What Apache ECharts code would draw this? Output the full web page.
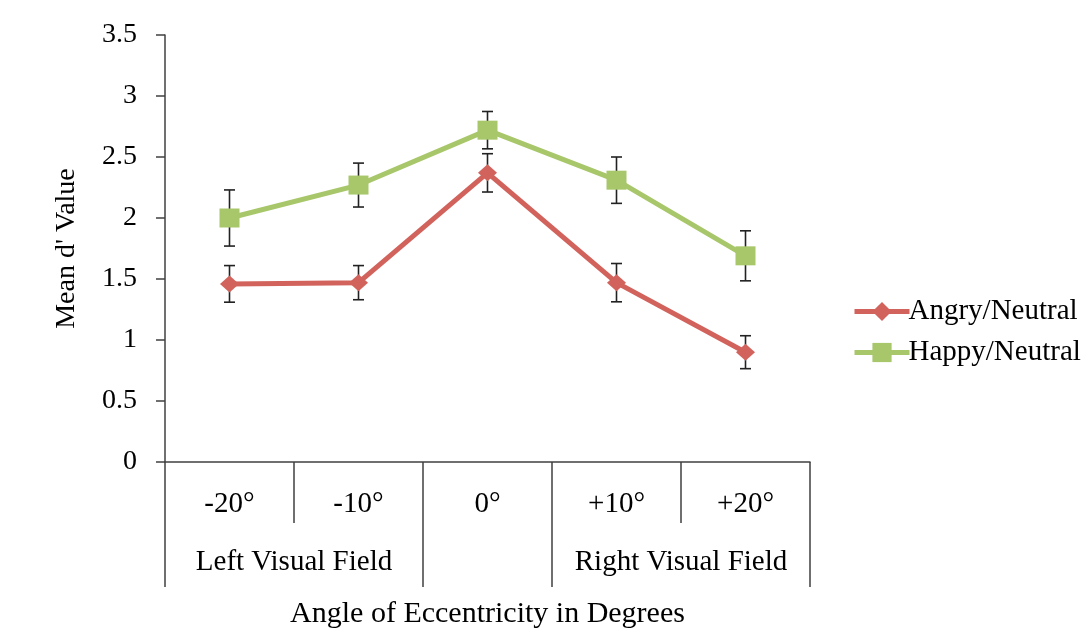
<!DOCTYPE html>
<html>
<head>
<meta charset="utf-8">
<script src="https://cdn.jsdelivr.net/npm/echarts@6/dist/echarts.min.js"></script>
<style>
html,body{margin:0;padding:0;background:#fff;}
#chart{width:1091px;height:629px;}
</style>
</head>
<body>
<div id="chart"></div>
<script>
// ---- data ----
var categories = ['-20°', '-10°', '0°', '+10°', '+20°'];
var angry = [1.46, 1.47, 2.37, 1.47, 0.90];
var angryErr = [0.15, 0.14, 0.157, 0.157, 0.135];
var happy = [2.00, 2.27, 2.72, 2.31, 1.69];
var happyErr = [0.23, 0.18, 0.153, 0.19, 0.205];
var fieldLabels = ['', 'Left Visual Field', '', '', 'Right Visual Field', ''];
var yTicks = [0, 0.5, 1, 1.5, 2, 2.5, 3, 3.5];

var FONT = 'Liberation Serif';
var AXIS_COLOR = '#404040';
var RED = '#D2635C';
var GREEN = '#A8C76A';

function errData(vals, errs) {
  return vals.map(function (v, i) { return [i, v - errs[i], v + errs[i]]; });
}

function renderErr(params, api) {
  var x = api.value(0);
  var lo = api.coord([x, api.value(1)]);
  var hi = api.coord([x, api.value(2)]);
  var hw = 5.5;
  var style = { stroke: '#222', lineWidth: 1.6 };
  return {
    type: 'group',
    children: [
      { type: 'line', shape: { x1: lo[0], y1: lo[1], x2: hi[0], y2: hi[1] }, style: style },
      { type: 'line', shape: { x1: lo[0] - hw, y1: lo[1], x2: lo[0] + hw, y2: lo[1] }, style: style },
      { type: 'line', shape: { x1: hi[0] - hw, y1: hi[1], x2: hi[0] + hw, y2: hi[1] }, style: style }
    ]
  };
}

var chart = echarts.init(document.getElementById('chart'));
chart.setOption({
  animation: false,
  backgroundColor: '#fff',
  textStyle: { fontFamily: FONT, color: '#000' },
  grid: { left: 165, right: 281, top: 35, bottom: 167, containLabel: false, outerBoundsMode: 'none' },
  legend: {
    data: ['Angry/Neutral', 'Happy/Neutral'],
    orient: 'vertical',
    left: 847,
    top: 292,
    itemWidth: 55,
    itemHeight: 24,
    itemGap: 12,
    lineStyle: { width: 5 },
    textStyle: { fontFamily: FONT, fontSize: 29, color: '#000', padding: [0, 0, 0, -6] }
  },
  xAxis: [
    {
      type: 'category',
      data: categories,
      position: 'bottom',
      boundaryGap: true,
      axisLine: { show: true, lineStyle: { color: AXIS_COLOR, width: 1.5 } },
      axisTick: { show: true, interval: 0, length: 61, lineStyle: { color: AXIS_COLOR, width: 1.5 } },
      axisLabel: { interval: 0, margin: 28, fontFamily: FONT, fontSize: 29, color: '#000' },
      splitLine: { show: false }
    },
    {
      type: 'category',
      data: categories,
      position: 'bottom',
      boundaryGap: true,
      axisLine: { show: false },
      axisTick: {
        show: true, length: 125,
        interval: function (i) { return i === 0 || i === 2 || i === 3; },
        lineStyle: { color: AXIS_COLOR, width: 1.5 }
      },
      axisLabel: { show: false },
      splitLine: { show: false }
    },
    {
      type: 'value',
      position: 'bottom',
      min: 0, max: 5, interval: 1,
      axisLine: { show: false },
      axisTick: { show: false },
      splitLine: { show: false },
      axisLabel: {
        margin: 86, fontFamily: FONT, fontSize: 29, color: '#000',
        showMinLabel: true, showMaxLabel: true,
        formatter: function (v) { return fieldLabels[Math.round(v)] || ''; }
      },
      name: 'Angle of Eccentricity in Degrees',
      nameLocation: 'middle',
      nameGap: 137,
      nameTextStyle: { fontFamily: FONT, fontSize: 30, color: '#000' }
    }
  ],
  yAxis: {
    type: 'value',
    min: yTicks[0],
    max: yTicks[yTicks.length - 1],
    interval: 0.5,
    axisLine: { show: true, lineStyle: { color: AXIS_COLOR, width: 1.5 } },
    axisTick: { show: true, length: 9, lineStyle: { color: AXIS_COLOR, width: 1.5 } },
    axisLabel: { margin: 28, fontFamily: FONT, fontSize: 28, color: '#000' },
    splitLine: { show: false },
    name: "Mean d' Value",
    nameLocation: 'middle',
    nameGap: 84,
    nameTextStyle: { fontFamily: FONT, fontSize: 28, color: '#000' }
  },
  series: [
    {
      type: 'custom',
      name: 'angryErr',
      xAxisIndex: 0, yAxisIndex: 0,
      renderItem: renderErr,
      data: errData(angry, angryErr),
      z: 1, silent: true
    },
    {
      type: 'custom',
      name: 'happyErr',
      xAxisIndex: 0, yAxisIndex: 0,
      renderItem: renderErr,
      data: errData(happy, happyErr),
      z: 1, silent: true
    },
    {
      type: 'line',
      name: 'Angry/Neutral',
      xAxisIndex: 0,
      data: angry,
      symbol: 'diamond',
      symbolSize: [19, 17],
      lineStyle: { color: RED, width: 5 },
      itemStyle: { color: RED },
      z: 3
    },
    {
      type: 'line',
      name: 'Happy/Neutral',
      xAxisIndex: 0,
      data: happy,
      symbol: 'rect',
      symbolSize: [20, 19],
      lineStyle: { color: GREEN, width: 5 },
      itemStyle: { color: GREEN },
      z: 4
    }
  ]
});
</script>
</body>
</html>
